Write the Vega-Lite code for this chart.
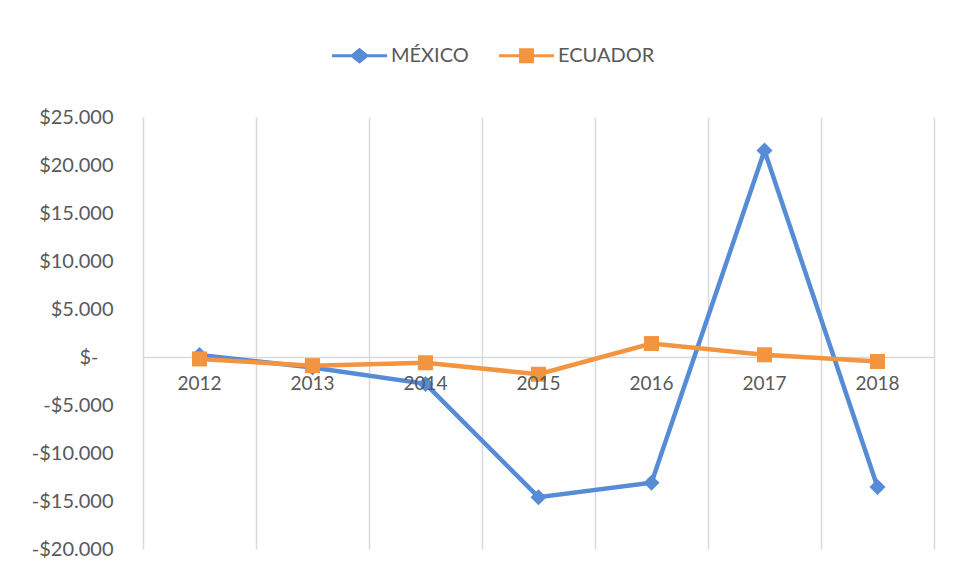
{
  "$schema": "https://vega.github.io/schema/vega-lite/v6.json",
  "width": 791,
  "height": 432,
  "autosize": "none",
  "padding": {"left": 143, "top": 117, "right": 24, "bottom": 29},
  "background": "white",
  "config": {
    "font": "Lato",
    "view": {"stroke": null},
    "axis": {"labelFont": "Lato", "labelColor": "#595959", "labelFontSize": 20}
  },
  "data": {
    "values": [
      {"year": 2012, "series": "MÉXICO", "value": 200},
      {"year": 2013, "series": "MÉXICO", "value": -1100},
      {"year": 2014, "series": "MÉXICO", "value": -2800},
      {"year": 2015, "series": "MÉXICO", "value": -14600},
      {"year": 2016, "series": "MÉXICO", "value": -13100},
      {"year": 2017, "series": "MÉXICO", "value": 21500},
      {"year": 2018, "series": "MÉXICO", "value": -13550},
      {"year": 2012, "series": "ECUADOR", "value": -200},
      {"year": 2013, "series": "ECUADOR", "value": -900},
      {"year": 2014, "series": "ECUADOR", "value": -600},
      {"year": 2015, "series": "ECUADOR", "value": -1800},
      {"year": 2016, "series": "ECUADOR", "value": 1400},
      {"year": 2017, "series": "ECUADOR", "value": 230},
      {"year": 2018, "series": "ECUADOR", "value": -470}
    ]
  },
  "encoding": {
    "x": {
      "field": "year",
      "type": "quantitative",
      "scale": {"domain": [2011.5, 2018.5], "nice": false, "zero": false},
      "axis": {
        "title": null,
        "values": [2011.5, 2012.5, 2013.5, 2014.5, 2015.5, 2016.5, 2017.5, 2018.5],
        "grid": true,
        "gridColor": "#d9d9d9",
        "gridWidth": 1.5,
        "labels": false,
        "ticks": false,
        "domain": false
      }
    },
    "y": {
      "field": "value",
      "type": "quantitative",
      "scale": {"domain": [-20000, 25000], "nice": false, "zero": false},
      "axis": {
        "title": null,
        "values": [-20000, -15000, -10000, -5000, 0, 5000, 10000, 15000, 20000, 25000],
        "grid": true,
        "gridColor": "#d9d9d9",
        "gridWidth": 1.5,
        "gridOpacity": {"condition": {"test": "datum.value === 0", "value": 1}, "value": 0},
        "ticks": false,
        "tickSize": 0,
        "domain": false,
        "labelPadding": 30,
        "labelExpr": "datum.value === 0 ? '$-\u2800' : (datum.value < 0 ? '-$' : '$') + replace(format(abs(datum.value), ','), ',', '.')"
      }
    }
  },
  "layer": [
    {
      "transform": [{"filter": "datum.series === 'MÉXICO'"}],
      "mark": {
        "type": "line",
        "strokeWidth": 4.5,
        "point": {"shape": "diamond", "size": 256, "filled": true, "opacity": 1}
      },
      "encoding": {
        "color": {
          "field": "series",
          "type": "nominal",
          "scale": {"domain": ["MÉXICO", "ECUADOR"], "range": ["#568BD6", "#F39441"]},
          "legend": {
            "title": null,
            "orient": "none",
            "direction": "horizontal",
            "legendX": 189,
            "legendY": -89,
            "labelFontSize": 20,
            "labelColor": "#595959",
            "labelFont": "Lato",
            "labelOffset": 4,
            "columnPadding": 30,
            "symbolSize": 3025,
            "encode": {
              "symbols": {
                "update": {
                  "shape": {"signal": "datum.value === 'MÉXICO' ? 'M-1,-0.055L-0.29,-0.055L0,-0.29L0.29,-0.055L1,-0.055L1,0.055L0.29,0.055L0,0.29L-0.29,0.055L-1,0.055Z' : 'M-1,-0.055L-0.27,-0.055L-0.27,-0.27L0.27,-0.27L0.27,-0.055L1,-0.055L1,0.055L0.27,0.055L0.27,0.27L-0.27,0.27L-0.27,0.055L-1,0.055Z'"},
                  "fill": {"signal": "datum.value === 'MÉXICO' ? '#568BD6' : '#F39441'"},
                  "stroke": {"value": "transparent"},
                  "strokeWidth": {"value": 0},
                  "opacity": {"value": 1},
                  "fillOpacity": {"value": 1}
                }
              }
            }
          }
        }
      }
    },
    {
      "transform": [{"filter": "datum.series === 'ECUADOR'"}],
      "mark": {
        "type": "line",
        "strokeWidth": 4.5,
        "point": {"shape": "square", "size": 225, "filled": true, "opacity": 1}
      },
      "encoding": {
        "color": {"field": "series", "type": "nominal"}
      }
    },
    {
      "transform": [{"filter": "datum.series === 'ECUADOR'"}],
      "mark": {"type": "text", "fontSize": 19, "color": "#595959", "font": "Lato", "baseline": "middle", "dy": 27},
      "encoding": {
        "y": {"datum": 0, "type": "quantitative"},
        "text": {"field": "year", "type": "nominal"}
      }
    }
  ]
}
